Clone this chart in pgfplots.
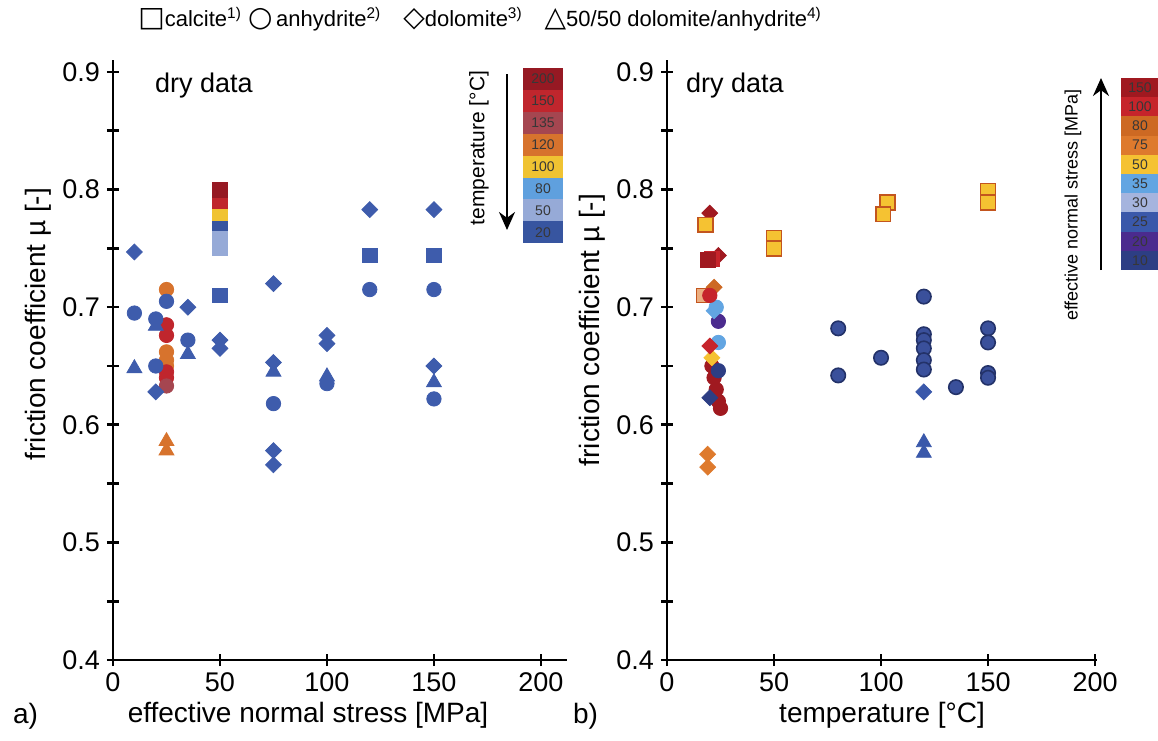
\documentclass[border=0pt]{standalone}
\usepackage{fontspec}
\setmainfont{Liberation Sans}
\newfontfamily\symfont{DejaVu Sans}
\usepackage{pgfplots}
\pgfplotsset{compat=1.18}
\usetikzlibrary{arrows.meta}

% temperature colours (panel a)
\definecolor{tA}{RGB}{150,25,35}   % 200
\definecolor{tB}{RGB}{192,38,45}   % 150
\definecolor{tC}{RGB}{165,70,80}   % 135
\definecolor{tD}{RGB}{215,115,45}  % 120
\definecolor{tE}{RGB}{240,195,50}  % 100
\definecolor{tF}{RGB}{95,160,222}  % 80
\definecolor{tG}{RGB}{150,170,215} % 50
\definecolor{tH}{RGB}{55,85,160}   % 20
\definecolor{ptblue}{RGB}{62,92,172}
% normal stress colours (panel b)
\definecolor{sA}{RGB}{160,25,32}   % 150
\definecolor{sB}{RGB}{198,36,43}   % 100
\definecolor{sC}{RGB}{205,105,35}  % 80
\definecolor{sD}{RGB}{222,122,45}  % 75
\definecolor{sE}{RGB}{245,194,50}  % 50
\definecolor{sF}{RGB}{98,165,226}  % 35
\definecolor{sG}{RGB}{165,180,222} % 30
\definecolor{sH}{RGB}{58,88,170}   % 25
\definecolor{sI}{RGB}{75,43,142}   % 20
\definecolor{sJ}{RGB}{45,62,132}   % 10
\definecolor{navy}{RGB}{58,80,155}
\definecolor{navyedge}{RGB}{35,50,105}
\definecolor{sqedge}{RGB}{195,85,30}
\definecolor{numgray}{RGB}{55,55,55}

\pgfplotsset{
  panel/.style={
    scale only axis, anchor=south west, clip=false,
    axis lines=left,
    axis line style={line width=1.3pt, -},
    every tick/.style={black, line width=1.3pt},
    tick align=center, major tick length=6pt, minor tick length=6pt,
    ymin=0.4, ymax=0.91,
    ytick={0.4,0.5,0.6,0.7,0.8,0.9},
    minor ytick={0.45,0.55,0.65,0.75,0.85},
    xtick={0,50,100,150,200},
    tick label style={font=\fontsize{13.5}{16}\selectfont},
    /pgf/number format/assume math mode=true,
    yticklabel style={/pgf/number format/.cd, fixed, fixed zerofill, precision=1},
    label style={font=\fontsize{14}{17}\selectfont},
  },
  csq/.style={only marks, mark=square*, mark size=3.7pt, color=#1},
  cci/.style={only marks, mark=*, mark size=3.6pt, color=#1},
  cdi/.style={only marks, mark=square*, mark size=2.8pt, mark options={rotate=45}, color=#1},
  ctr/.style={only marks, mark=triangle*, mark size=4.3pt, color=#1},
}

\begin{document}
\begin{tikzpicture}
\path[use as bounding box] (0,0) rectangle (579pt,-370pt);

% ---------------- panel a ----------------
\begin{axis}[panel,
  at={(56.5pt,-330pt)}, width=226.8pt, height=299.9pt,
  xmin=0, xmax=212,
  xlabel={effective normal stress [MPa]},
  xlabel style={at={(axis description cs:0.43,0)}, anchor=center, yshift=-27.5pt},
  ylabel={friction coefficient µ [-]},
  ylabel style={at={(axis description cs:-0.165,0.56)}, anchor=center},
]
\addplot[csq=ptblue] coordinates {(50,0.710) (120,0.744) (150,0.744)};
\addplot[csq=tG] coordinates {(50,0.750) (50,0.758) (50,0.765)};
\addplot[csq=tH] coordinates {(50,0.772)};
\addplot[csq=tE] coordinates {(50,0.780)};
\addplot[csq=tB] coordinates {(50,0.790)};
\addplot[csq=tA] coordinates {(50,0.800)};
\addplot[cci=tD] coordinates {(25,0.715) (25,0.662) (25,0.655) (25,0.650)};
\addplot[cci=tB] coordinates {(25,0.685) (25,0.676) (25,0.645) (25,0.640)};
\addplot[cci=tC] coordinates {(25,0.633)};
\addplot[ctr=tD] coordinates {(25,0.586) (25,0.578)};
\addplot[cci=ptblue] coordinates {(10,0.695) (20,0.690) (20,0.650) (25,0.705)
  (35,0.672) (75,0.618) (100,0.635) (120,0.715) (150,0.715) (150,0.622)};
\addplot[cdi=ptblue] coordinates {(10,0.747) (20,0.628) (35,0.700) (50,0.672)
  (50,0.665) (75,0.720) (75,0.653) (75,0.578) (75,0.566) (100,0.676)
  (100,0.669) (120,0.783) (150,0.783) (150,0.650)};
\addplot[ctr=ptblue] coordinates {(10,0.648) (20,0.684) (35,0.660) (75,0.645)
  (100,0.641) (150,0.636)};
\end{axis}

% ---------------- panel b ----------------
\begin{axis}[panel,
  at={(333.5pt,-330pt)}, width=215.1pt, height=299.9pt,
  xmin=0, xmax=201,
  xlabel={temperature [°C]},
  xlabel style={at={(axis description cs:0.5,0)}, anchor=center, yshift=-27.5pt},
  ylabel={friction coefficient µ [-]},
  ylabel style={at={(axis description cs:-0.174,0.55)}, anchor=center},
]
\addplot[cdi=sD] coordinates {(19,0.575) (19,0.564)};
\addplot[cci=sA] coordinates {(21,0.650) (22,0.640) (23,0.630) (24,0.620) (25,0.614)};
\addplot[cdi=sJ] coordinates {(20,0.623)};
\addplot[cci=sJ] coordinates {(24,0.646)};
\addplot[cdi=sE] coordinates {(21,0.657)};
\addplot[cci=sF] coordinates {(24,0.670) (23,0.700)};
\addplot[cdi=sB] coordinates {(20,0.667)};
\addplot[cci=sI] coordinates {(24,0.688)};
\addplot[cdi=sF] coordinates {(22,0.697)};
\addplot[csq=sD, mark options={draw=sqedge, fill=sD!60!white}] coordinates {(17,0.710)};
\addplot[cdi=sC] coordinates {(22,0.717)};
\addplot[cci=sB] coordinates {(20,0.710)};
\addplot[cdi=sA] coordinates {(24,0.744)};
\addplot[csq=sB] coordinates {(21,0.741)};
\addplot[csq=sA] coordinates {(19,0.740)};
\addplot[cdi=sA] coordinates {(20,0.780)};
\addplot[csq=sE, mark options={draw=sqedge, fill=sE, line width=0.8pt}] coordinates {(18,0.770)
  (50,0.759) (50,0.750) (103,0.789) (101,0.779) (150,0.799) (150,0.789)};
\addplot[ctr=sH] coordinates {(120,0.585) (120,0.576)};
\addplot[cdi=sH] coordinates {(120,0.628)};
\addplot[cci=navy, mark options={draw=navyedge, fill=navy, line width=0.8pt}] coordinates {
  (80,0.682) (80,0.642) (100,0.657) (120,0.709) (120,0.677) (120,0.672)
  (120,0.665) (120,0.655) (120,0.647) (135,0.632) (150,0.682) (150,0.670)
  (150,0.644) (150,0.640)};
\end{axis}

% ---------------- decorations (pixel coordinates) ----------------
\begin{scope}[x=0.5pt, y=-0.5pt]
  \node[anchor=west, font=\fontsize{11}{13}\selectfont, inner sep=0pt] at (138,19)
    {{\symfont\fontsize{14}{14}\selectfont □}calcite\textsuperscript{1)}\ {\symfont\fontsize{14}{14}\selectfont ○}\,anhydrite\textsuperscript{2)}\quad
     {\symfont\fontsize{14}{14}\selectfont ◇}dolomite\textsuperscript{3)}\quad {\symfont\fontsize{14}{14}\selectfont △}50/50 dolomite/anhydrite\textsuperscript{4)}};
  \node[anchor=west, font=\fontsize{13.5}{16}\selectfont] at (148,86) {dry data};
  \node[anchor=west, font=\fontsize{13.5}{16}\selectfont] at (679,86) {dry data};
  \node[anchor=west, font=\fontsize{14}{17}\selectfont] at (6,716) {a)};
  \node[anchor=west, font=\fontsize{14}{17}\selectfont] at (566,716) {b)};

  % temperature colour scale
  \foreach \c/\t [count=\i from 0] in {tA/200,tB/150,tC/135,tD/120,tE/100,tF/80,tG/50,tH/20}{
    \fill[\c] (523,68+\i*21.9) rectangle (563,68+\i*21.9+21.9);
    \node[font=\fontsize{7}{8}\selectfont, text=numgray] at (543,68+\i*21.9+11) {\t};
  }
  \draw[line width=1pt, -{Stealth[length=9pt, width=8pt]}] (507,74) -- (507,230);
  \node[rotate=90, font=\fontsize{10.5}{12}\selectfont] at (479,148) {temperature [°C]};

  % normal stress colour scale
  \foreach \c/\t [count=\i from 0] in {sA/150,sB/100,sC/80,sD/75,sE/50,sF/35,sG/30,sH/25,sI/20,sJ/10}{
    \fill[\c] (1121,78+\i*19.2) rectangle (1158,78+\i*19.2+19.2);
    \node[font=\fontsize{7}{8}\selectfont, text=numgray] at (1140,78+\i*19.2+9.6) {\t};
  }
  \draw[line width=1pt, -{Stealth[length=9pt, width=8pt]}] (1101,270) -- (1101,78);
  \node[rotate=90, font=\fontsize{9}{11}\selectfont] at (1073,205) {effective normal stress [MPa]};
\end{scope}
\end{tikzpicture}
\end{document}
